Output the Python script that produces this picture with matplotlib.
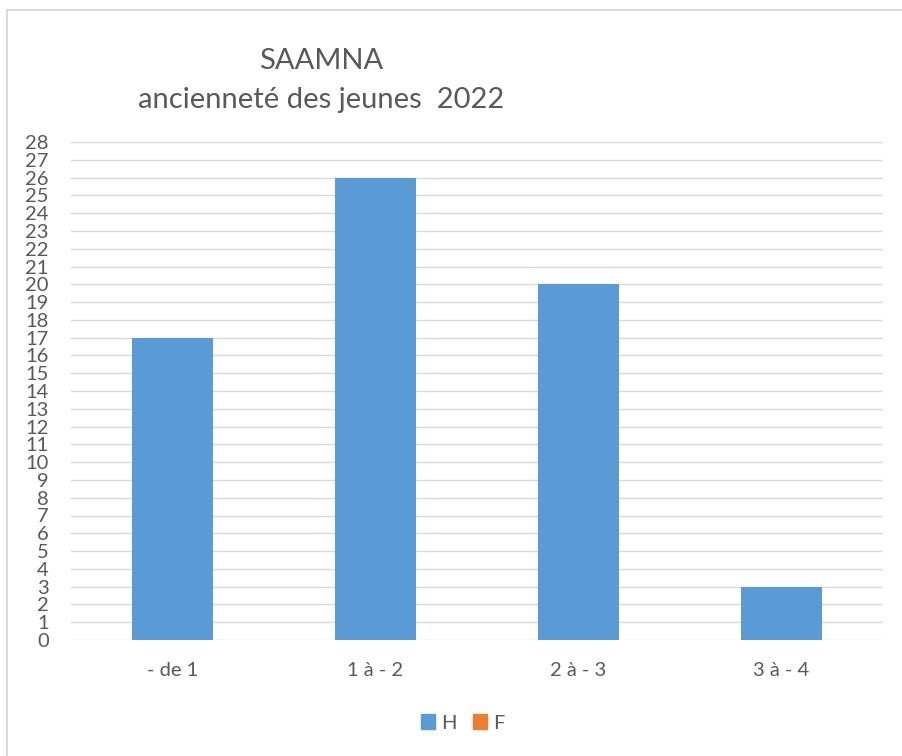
import matplotlib
matplotlib.use("Agg")
import matplotlib.pyplot as plt
from matplotlib.lines import Line2D
from matplotlib.patches import Patch
import numpy as np

plt.rcParams['font.family'] = ['Lato', 'DejaVu Sans']

categories = ["- de 1", "1 à - 2", "2 à - 3", "3 à - 4"]
h_values = [17, 26, 20, 3]
f_values = [0, 0, 0, 0]
yticks = list(range(0, 29))

BLUE = "#5b9bd5"
ORANGE = "#ed7d31"
TXT = "#595959"
GRID = "#d9d9d9"

W, H = 902, 756
fig = plt.figure(figsize=(W / 100, H / 100), dpi=100)
ax = fig.add_axes([71 / W, 1 - 640 / H, (883 - 71) / W, (640 - 142) / H])

x = np.arange(len(categories))
ax.bar(x, h_values, width=0.4, color=BLUE, zorder=3, label="H")
ax.bar(x, f_values, width=0.4, color=ORANGE, zorder=3, label="F")

ax.set_xlim(-0.5, len(categories) - 0.5)
ax.set_ylim(0, 28)
ax.set_yticks(yticks)
ax.set_xticks(x)
ax.set_xticklabels(categories)
ax.tick_params(axis='both', length=0, colors=TXT, labelsize=14.5)
ax.tick_params(axis='y', pad=16)
ax.tick_params(axis='x', pad=16)
ax.grid(axis='y', color=GRID, linewidth=1, zorder=0)
for s in ax.spines.values():
    s.set_visible(False)

fig.text(321 / W, 1 - 61 / H, "SAAMNA", ha='center', va='center', fontsize=21, color=TXT)
fig.text(321 / W, 1 - 100 / H, "ancienneté des jeunes  2022", ha='center', va='center',
         fontsize=21, color=TXT)

# chart border (only left and top visible)
fig.add_artist(Line2D([7.5 / W, 7.5 / W], [0, 1 - 10 / H], color="#d9d9d9", linewidth=1.5,
                      transform=fig.transFigure))
fig.add_artist(Line2D([7.5 / W, 1], [1 - 10 / H, 1 - 10 / H], color="#d9d9d9", linewidth=1.5,
                      transform=fig.transFigure))

handles = [Patch(color=BLUE, label="H"), Patch(color=ORANGE, label="F")]
fig.legend(handles=handles, loc='center', bbox_to_anchor=(463 / W, 1 - 723 / H), ncol=2,
           frameon=False, fontsize=14.5, labelcolor=TXT, handlelength=0.7, handleheight=0.7,
           handletextpad=0.3, columnspacing=0.8)

fig.savefig("out.png", dpi=100)
